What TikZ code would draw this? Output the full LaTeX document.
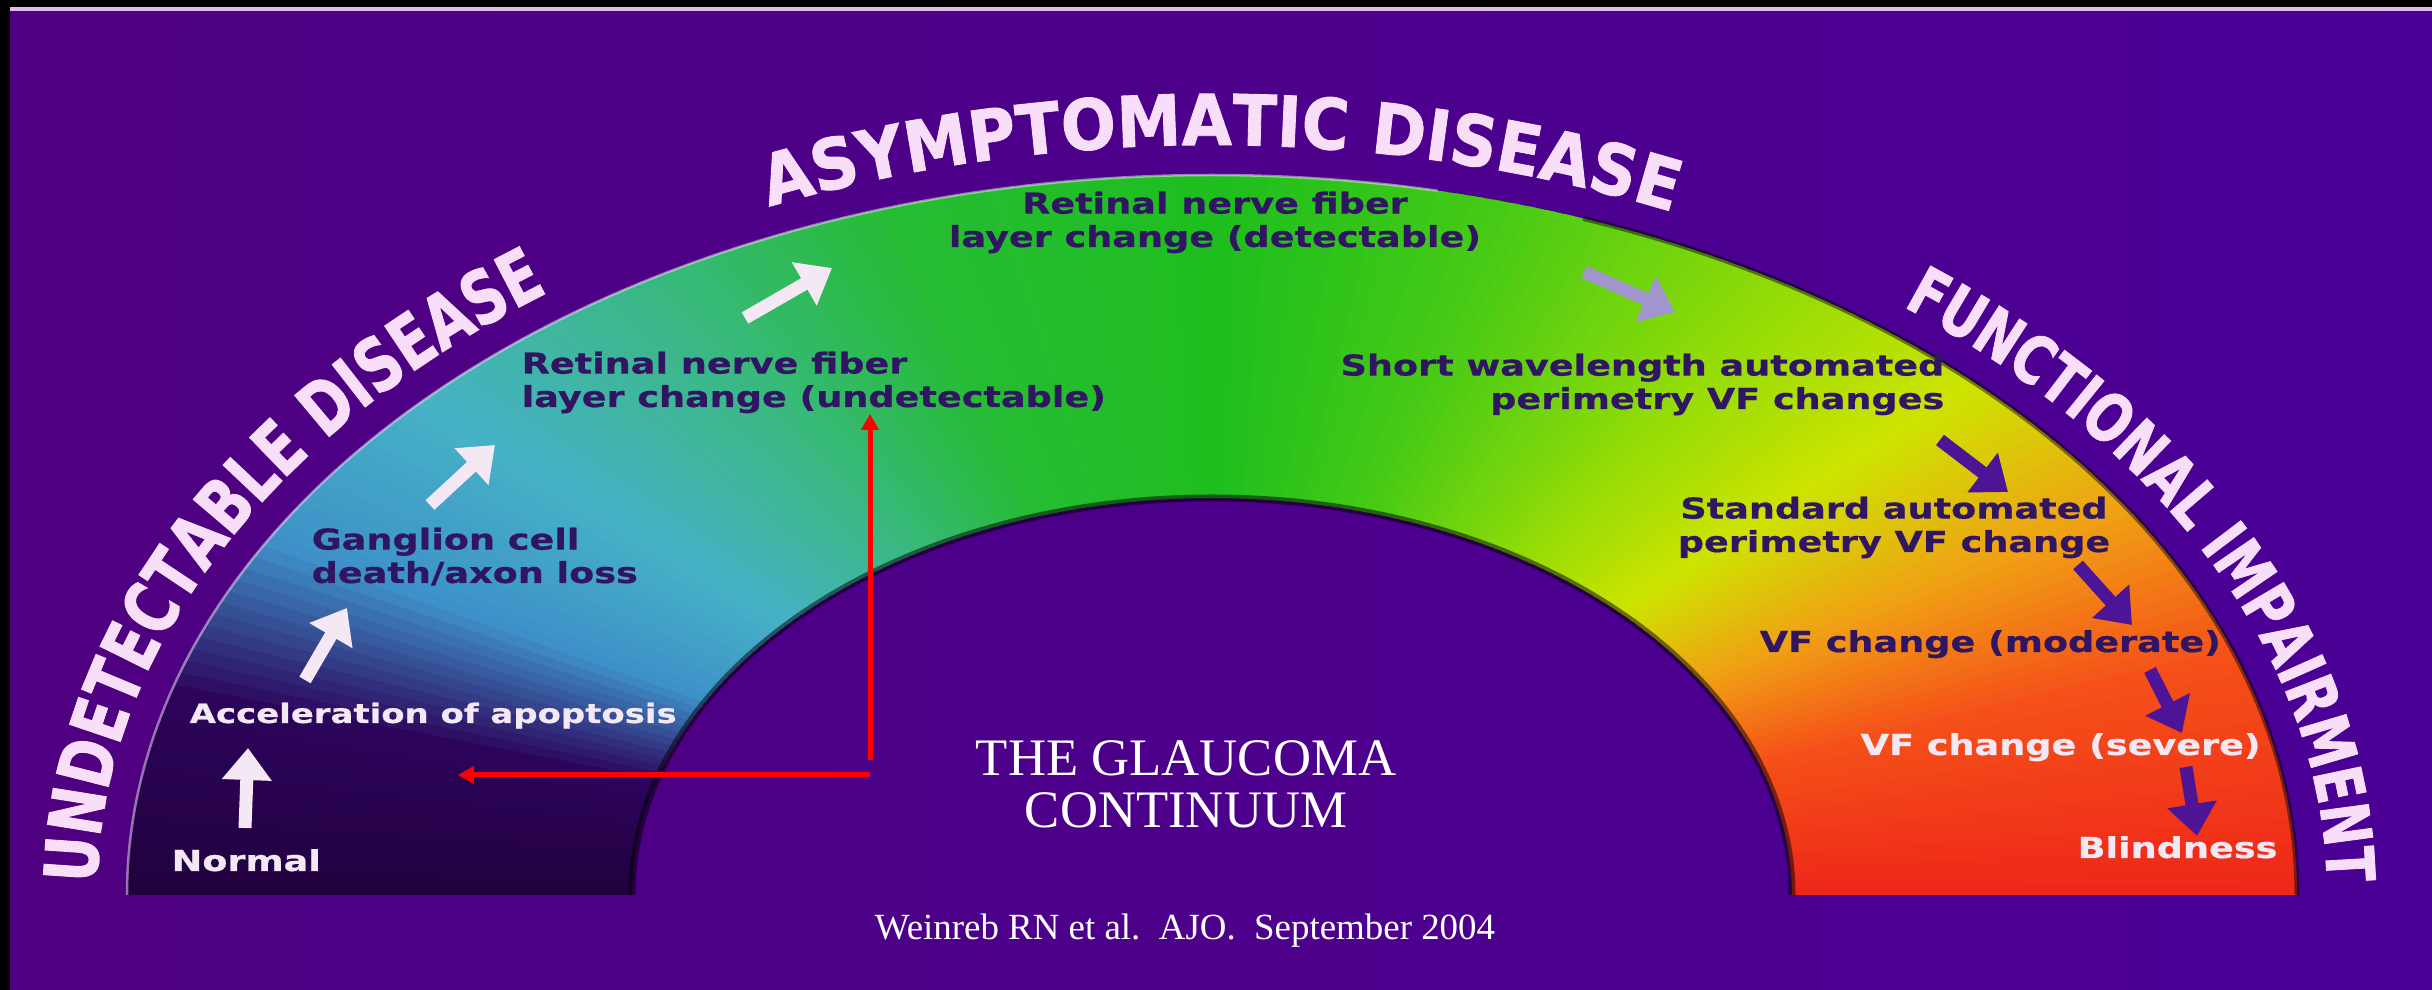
\documentclass[tikz,border=0pt]{standalone}
\usepackage{fontspec}
\setmainfont{Liberation Serif}
\newfontfamily\labelfont[FakeStretch=1.27,FakeBold=0.6]{DejaVu Sans}
\newfontfamily\topfont[FakeStretch=0.92,FakeBold=1.2]{DejaVu Sans}
\newfontfamily\sidefont[FakeStretch=0.76,FakeBold=1.2]{DejaVu Sans}
\usetikzlibrary{arrows.meta,positioning,calc,decorations.text}
\definecolor{bgleft}{RGB}{78,0,128}
\definecolor{bgright}{RGB}{74,0,150}
\definecolor{rimline}{RGB}{225,185,235}
\definecolor{labelink}{RGB}{48,22,98}
\definecolor{lightink}{RGB}{245,232,245}
\definecolor{titleink}{RGB}{248,222,248}
\definecolor{greyarrow}{RGB}{160,150,205}
\definecolor{darkarrow}{RGB}{78,20,150}
% arch colours, left to right
\definecolor{arcA}{RGB}{34,0,62}
\definecolor{arcB}{RGB}{44,4,92}
\definecolor{arcC}{RGB}{62,145,200}
\definecolor{arcD}{RGB}{70,178,198}
\definecolor{arcE}{RGB}{58,184,130}
\definecolor{arcF}{RGB}{38,188,52}
\definecolor{arcG}{RGB}{30,190,30}
\definecolor{arcH}{RGB}{70,202,22}
\definecolor{arcI}{RGB}{140,218,8}
\definecolor{arcJ}{RGB}{205,228,0}
\definecolor{arcK}{RGB}{240,160,20}
\definecolor{arcL}{RGB}{245,80,25}
\definecolor{arcM}{RGB}{238,38,25}
\tikzset{
  stage/.style={font=\labelfont\bfseries\fontsize{8.2}{9.5}\selectfont,
    text=labelink, inner sep=0pt},
  stagew/.style={stage, text=lightink},
  warr/.style={-{Triangle[width=0.48cm,length=0.32cm]}, line width=0.13cm, draw=lightink},
  parr/.style={warr, draw=darkarrow},
  garr/.style={warr, draw=greyarrow},
  redarr/.style={-{Triangle[width=0.17cm,length=0.16cm]}, line width=0.05cm, draw=red},
  cite/.style={text=white, inner sep=0pt}
}

\begin{document}
\begin{tikzpicture}
\useasboundingbox (0,0) rectangle (24.32,9.90);
\shade[left color=bgleft, right color=bgright] (0,0) rectangle (24.32,9.90);
\fill[rimline] (0,9.79) rectangle (24.32,9.84);
\fill[black] (0,9.83) rectangle (24.32,9.90);
\fill[black] (0,0) rectangle (0.10,9.90);

\coordinate (hub) at (12.12,0.95);

% the arch, in thin wedges
\foreach \ta/\tb/\ca/\cb in {180/164/arcA/arcB, 164/151/arcB/arcC, 151/137/arcC/arcD,
    137/122/arcD/arcE, 122/108/arcE/arcF, 108/90/arcF/arcG, 90/75/arcG/arcH,
    75/60/arcH/arcI, 60/46/arcI/arcJ, 46/33/arcJ/arcK, 33/20/arcK/arcL, 20/0/arcL/arcM}{
  \pgfmathtruncatemacro\n{\ta-\tb-1}
  \foreach \k in {0,...,\n}{
    \pgfmathsetmacro\p{100-100*\k/(\ta-\tb)}
    \pgfmathsetmacro\tha{\ta-\k}
    \pgfmathsetmacro\thb{max(\ta-\k-1.5,0)}
    \fill[\ca!\p!\cb] ($(hub)+(\tha:10.85 and 7.2)$)
      arc[start angle=\tha, end angle=\thb, x radius=10.85, y radius=7.2]
      -- ($(hub)+(\thb:5.8 and 3.97)$)
      arc[start angle=\thb, end angle=\tha, x radius=5.8, y radius=3.97] -- cycle;
  }
}
\draw[black, opacity=0.5, line width=0.07cm] ($(hub)+(180:5.8 and 3.97)$)
  arc[start angle=180, end angle=0, x radius=5.8, y radius=3.97];
\draw[black, opacity=0.45, line width=0.05cm] ($(hub)+(70:10.85 and 7.2)$)
  arc[start angle=70, end angle=0, x radius=10.85, y radius=7.2];
\draw[lightink, opacity=0.5, line width=0.025cm] ($(hub)+(180:10.85 and 7.2)$)
  arc[start angle=180, end angle=78, x radius=10.85, y radius=7.2];

% titles round the arch
\path[decorate, decoration={text along path, text align=center, text color=titleink,
    text={|\sidefont\bfseries\fontsize{21}{21}\selectfont|UNDETECTABLE DISEASE}}]
  ($(hub)+(178.5:11.15 and 7.5)$) arc[start angle=178.5, end angle=127, x radius=11.15, y radius=7.5];
\path[decorate, decoration={text along path, text align=center, text color=titleink,
    text={|\topfont\bfseries\fontsize{20}{20}\selectfont|ASYMPTOMATIC DISEASE}}]
  ($(hub)+(114.4:11.15 and 7.5)$) arc[start angle=114.4, end angle=64.6, x radius=11.15, y radius=7.5];
\path[decorate, decoration={text along path, text align=center, text color=titleink,
    text={|\sidefont\bfseries\fontsize{19}{19}\selectfont|FUNCTIONAL IMPAIRMENT}}]
  ($(hub)+(50.9:11.15 and 7.5)$) arc[start angle=50.9, end angle=2, x radius=11.15, y radius=7.5];

% stages
\node[stagew, anchor=base west] (normal) at (1.71,1.19) {Normal};
\node[stagew, font=\labelfont\bfseries\fontsize{7.6}{9}\selectfont, anchor=base west] (accel) at (1.89,2.67) {Acceleration of apoptosis};
\node[stage, align=left, anchor=north west] (ganglion) at (3.11,4.63) {Ganglion cell\\death/axon loss};
\node[stage, align=left, anchor=north west] (rnflu) at (5.21,6.39) {Retinal nerve fiber\\layer change (undetectable)};
\node[stage, align=center, anchor=north] (rnfld) at (12.15,7.99) {Retinal nerve fiber\\layer change (detectable)};
\node[stage, align=right, anchor=north east] (swap) at (19.45,6.37) {Short wavelength automated\\perimetry VF changes};
\node[stage, align=center, anchor=north] (sap) at (18.94,4.94) {Standard automated\\perimetry VF change};
\node[stage, anchor=base west] (vfmod) at (17.59,3.38) {VF change (moderate)};
\node[stagew, anchor=base west] (vfsev) at (18.60,2.35) {VF change (severe)};
\node[stagew, anchor=base west] (blind) at (20.77,1.32) {Blindness};

% arrows between stages
\coordinate (normal-a) at (2.45,1.62);   \coordinate (normal-b) at (2.48,2.42);
\coordinate (accel-a) at (3.05,3.10);    \coordinate (accel-b) at (3.47,3.82);
\coordinate (ganglion-a) at (4.30,4.85); \coordinate (ganglion-b) at (4.95,5.45);
\coordinate (rnflu-a) at (7.45,6.72);    \coordinate (rnflu-b) at (8.32,7.22);
\coordinate (rnfld-a) at (15.84,7.18);   \coordinate (rnfld-b) at (16.75,6.78);
\coordinate (swap-a) at (19.40,5.50);    \coordinate (swap-b) at (20.08,4.98);
\coordinate (sap-a) at (20.78,4.25);     \coordinate (sap-b) at (21.32,3.65);
\coordinate (vfmod-a) at (21.50,3.20);   \coordinate (vfmod-b) at (21.82,2.57);
\coordinate (vfsev-a) at (21.86,2.23);   \coordinate (vfsev-b) at (21.97,1.54);
\draw[warr] (normal-a) -- (normal-b);
\draw[warr] (accel-a) -- (accel-b);
\draw[warr] (ganglion-a) -- (ganglion-b);
\draw[warr] (rnflu-a) -- (rnflu-b);
\draw[garr] (rnfld-a) -- (rnfld-b);
\draw[parr] (swap-a) -- (swap-b);
\draw[parr] (sap-a) -- (sap-b);
\draw[parr] (vfmod-a) -- (vfmod-b);
\draw[parr] (vfsev-a) -- (vfsev-b);

% red pointers
\coordinate (redup) at (8.70,2.30);
\coordinate (redleft) at (8.70,2.15);
\coordinate (redtip) at (4.58,2.15);
\draw[redarr] (redup) -- (redup |- rnflu.south);
\draw[redarr] (redleft) -- (redtip);

\node[cite, font=\fontsize{15}{14.8}\selectfont, align=center, anchor=north] (title) at (11.86,2.50) {THE GLAUCOMA\\CONTINUUM};
\node[cite, font=\fontsize{10.5}{12}\selectfont, anchor=base] (source) at (11.85,0.50) {Weinreb RN et al.\ \ AJO.\ \ September 2004};
\end{tikzpicture}
\end{document}
